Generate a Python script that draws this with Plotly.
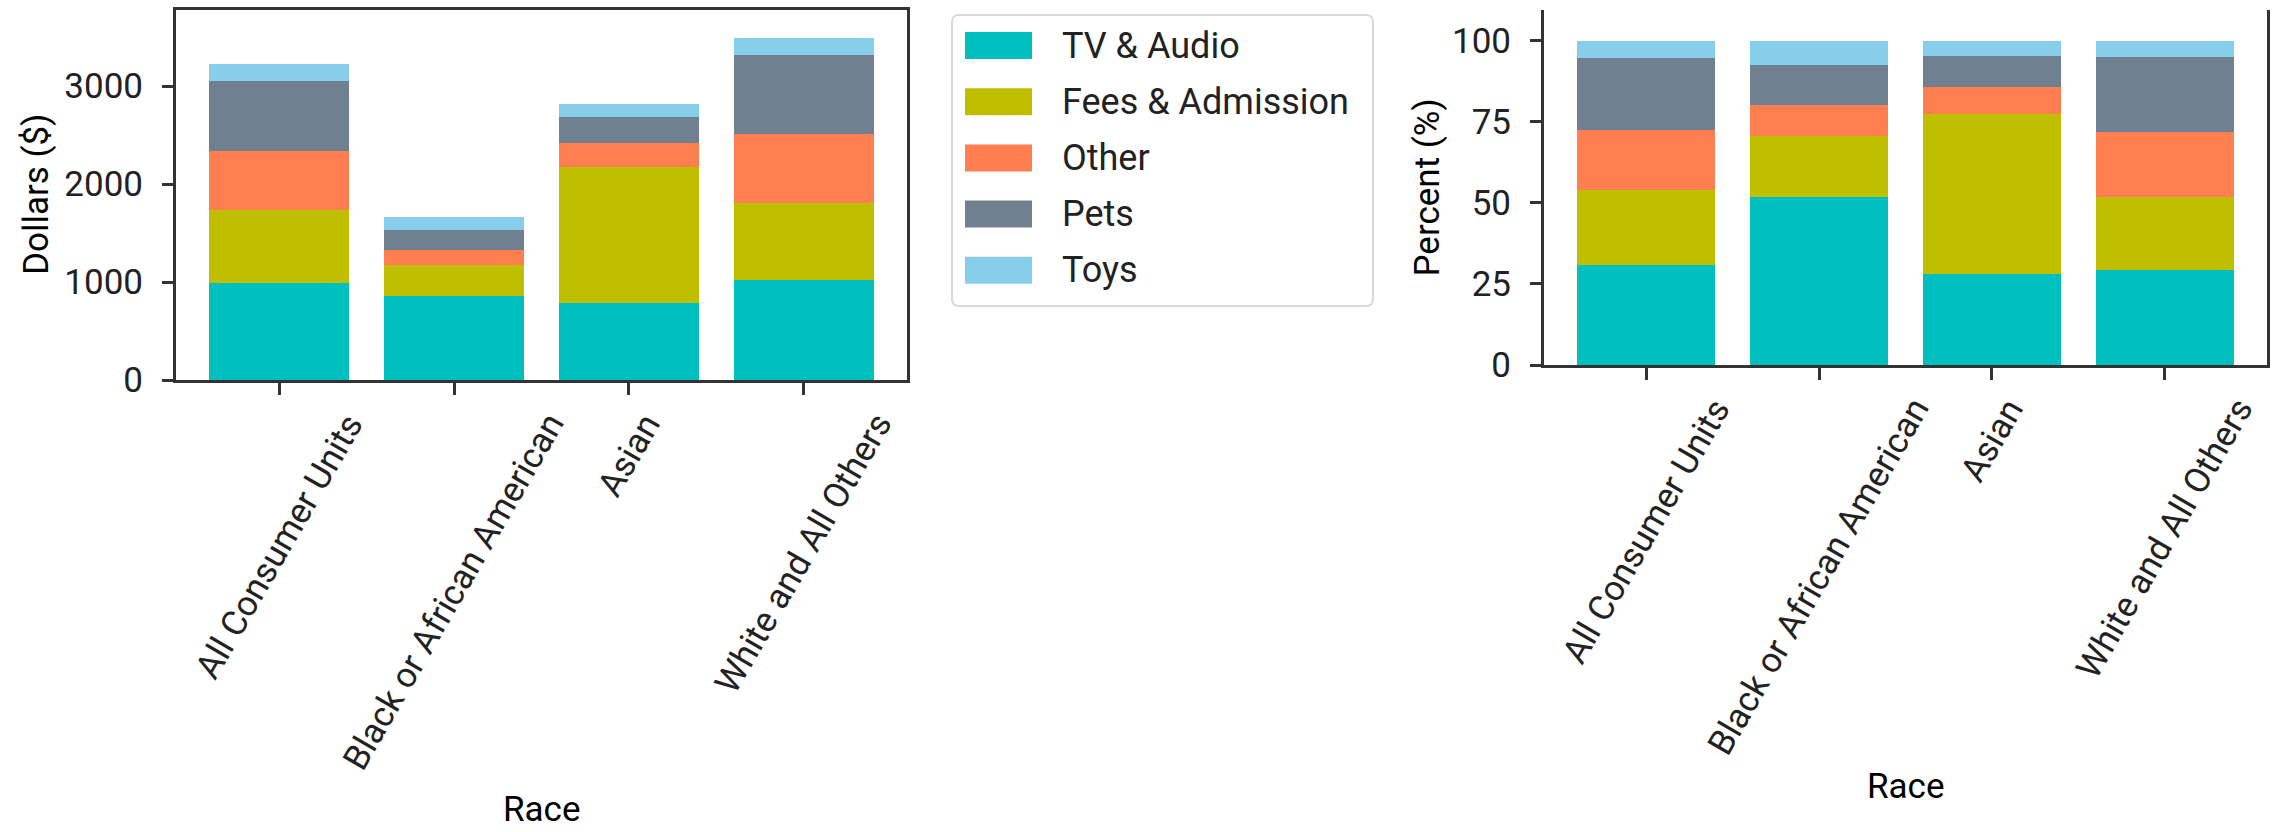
import plotly.graph_objects as go

W, H = 2285, 832

# ---- data -------------------------------------------------------------
races = ["All Consumer Units", "Black or African American", "Asian", "White and All Others"]
categories = ["TV & Audio", "Fees & Admission", "Other", "Pets", "Toys"]
colors = ["#00BFBF", "#BFBF00", "#FF7F50", "#708090", "#87CEEB"]

# annual spending in dollars per consumer unit
tv_audio = [990, 860, 786, 1020]
fees_admission = [745, 312, 1390, 786]
other = [600, 158, 240, 704]
pets = [718, 205, 270, 806]
toys = [170, 125, 132, 174]

dollar_ticks = [0, 1000, 2000, 3000]
percent_ticks = [0, 25, 50, 75, 100]

series = [tv_audio, fees_admission, other, pets, toys]
totals = [sum(col) for col in zip(*series)]
percents = [[100.0 * v / t for v, t in zip(s, totals)] for s in series]

# ---- layout helpers ---------------------------------------------------
FONT = "Roboto"
TXT = "#222222"
LINE = "#333333"


def px(x):
    return x / W


def py(y):
    return 1 - y / H


L_X0, L_X1, L_Y0, L_Y1 = 176, 907, 380, 10      # left axes box (pixels)
R_X0, R_X1, R_Y0, R_Y1 = 1544, 2267, 365, 10    # right axes box (pixels)

fig = go.Figure()

for name, vals, pct, col in zip(categories, series, percents, colors):
    fig.add_trace(go.Bar(x=races, y=vals, name=name, marker_color=col,
                         marker_line_width=0, xaxis="x", yaxis="y",
                         showlegend=False))
    fig.add_trace(go.Bar(x=races, y=pct, name=name, marker_color=col,
                         marker_line_width=0, xaxis="x2", yaxis="y2",
                         showlegend=False))

common_x = dict(type="category", range=[-0.59, 3.59], showline=True,
                linewidth=3, linecolor=LINE, ticks="outside", ticklen=12,
                tickwidth=2.5, tickcolor=LINE, showticklabels=False,
                showgrid=False, zeroline=False, fixedrange=True,
                automargin=False)
common_y = dict(showline=True, linewidth=3, linecolor=LINE, mirror=True,
                ticks="outside", ticklen=11, tickwidth=2.5, tickcolor=LINE,
                tickfont=dict(family=FONT, size=35, color=TXT),
                ticklabelstandoff=12, showgrid=False, zeroline=False,
                fixedrange=True, automargin=False)

fig.update_layout(
    width=W, height=H,
    margin=dict(l=0, r=0, t=0, b=0, pad=0, autoexpand=False),
    paper_bgcolor="white", plot_bgcolor="white",
    barmode="stack", bargap=0.2,
    showlegend=False,
    xaxis=dict(domain=[px(L_X0), px(L_X1)], anchor="y", mirror=True, **common_x),
    yaxis=dict(domain=[py(L_Y0), py(L_Y1)], anchor="x", range=[0, 3776],
               tickvals=dollar_ticks, **common_y),
    xaxis2=dict(domain=[px(R_X0), px(R_X1)], anchor="y2", mirror=False, **common_x),
    yaxis2=dict(domain=[py(R_Y0), py(R_Y1)], anchor="x2", range=[0, 109.4],
                tickvals=percent_ticks, **common_y),
)

annotations = []
shapes = []

# rotated category labels, centred under each tick
for xref, y0 in (("x", L_Y0), ("x2", R_Y0)):
    for r in races:
        annotations.append(dict(
            x=r, xref=xref, y=py(y0), yref="paper", text=r, textangle=-60,
            xanchor="center", yanchor="top", yshift=-24, showarrow=False,
            font=dict(family=FONT, size=35, color=TXT)))

# axis titles
annotations += [
    dict(x=px(36), y=py((L_Y0 + L_Y1) / 2), xref="paper", yref="paper",
         text="Dollars ($)", textangle=-90, showarrow=False,
         xanchor="center", yanchor="middle",
         font=dict(family=FONT, size=35, color="black")),
    dict(x=px(1427), y=py((R_Y0 + R_Y1) / 2), xref="paper", yref="paper",
         text="Percent (%)", textangle=-90, showarrow=False,
         xanchor="center", yanchor="middle",
         font=dict(family=FONT, size=35, color="black")),
    dict(x=px((L_X0 + L_X1) / 2), y=0, xref="paper", yref="paper",
         text="Race", showarrow=False, xanchor="center", yanchor="bottom",
         font=dict(family=FONT, size=35, color="black")),
    dict(x=px((R_X0 + R_X1) / 2), y=py(786), xref="paper", yref="paper",
         text="Race", showarrow=False, xanchor="center", yanchor="middle",
         font=dict(family=FONT, size=35, color="black")),
]

# legend box with rounded corners
bx0, bx1, by0, by1, rad = 952, 1373, 15, 306, 7


def P(x, y):
    return f"{px(x):.6f},{py(y):.6f}"


path = (f"M{P(bx0 + rad, by0)} L{P(bx1 - rad, by0)} Q{P(bx1, by0)} {P(bx1, by0 + rad)} "
        f"L{P(bx1, by1 - rad)} Q{P(bx1, by1)} {P(bx1 - rad, by1)} "
        f"L{P(bx0 + rad, by1)} Q{P(bx0, by1)} {P(bx0, by1 - rad)} "
        f"L{P(bx0, by0 + rad)} Q{P(bx0, by0)} {P(bx0 + rad, by0)} Z")
shapes.append(dict(type="path", xref="paper", yref="paper", path=path,
                   line=dict(color="#d9d9d9", width=2), fillcolor="white"))

for i, (name, col) in enumerate(zip(categories, colors)):
    cy = 45.5 + 56.2 * i
    shapes.append(dict(type="rect", xref="paper", yref="paper",
                       x0=px(965), x1=px(1032), y0=py(cy + 13.5), y1=py(cy - 13.5),
                       fillcolor=col, line=dict(width=0)))
    annotations.append(dict(x=px(1060), y=py(cy), xref="paper", yref="paper",
                            text=name, showarrow=False, xanchor="left",
                            yanchor="middle",
                            font=dict(family=FONT, size=36, color=TXT)))

fig.update_layout(annotations=annotations, shapes=shapes)

fig.write_html("out.html")
